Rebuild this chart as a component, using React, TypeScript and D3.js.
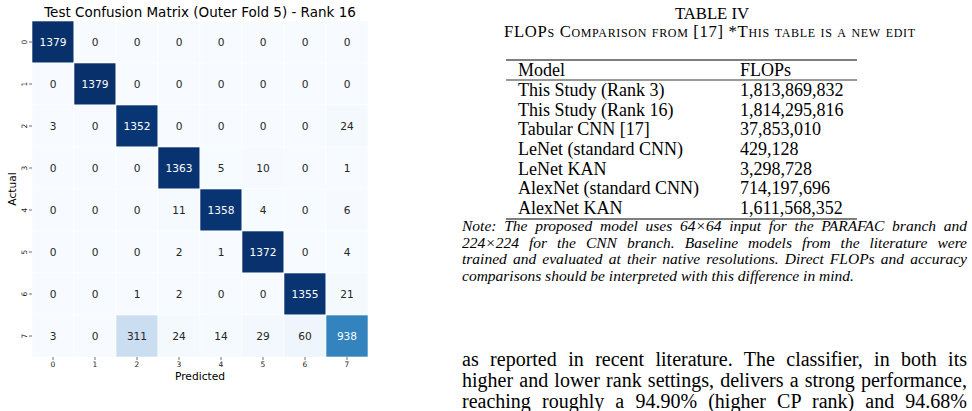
import { useEffect, useRef } from 'react';
import * as d3 from 'd3';

const classLabels = ['0', '1', '2', '3', '4', '5', '6', '7'];

// rows = actual, columns = predicted
const confusionRows = [
  [1379, 0, 0, 0, 0, 0, 0, 0],
  [0, 1379, 0, 0, 0, 0, 0, 0],
  [3, 0, 1352, 0, 0, 0, 0, 24],
  [0, 0, 0, 1363, 5, 10, 0, 1],
  [0, 0, 0, 11, 1358, 4, 0, 6],
  [0, 0, 0, 2, 1, 1372, 0, 4],
  [0, 0, 1, 2, 0, 0, 1355, 21],
  [3, 0, 311, 24, 14, 29, 60, 938],
];

const tableModels = [
  'This Study (Rank 3)',
  'This Study (Rank 16)',
  'Tabular CNN [17]',
  'LeNet (standard CNN)',
  'LeNet KAN',
  'AlexNet (standard CNN)',
  'AlexNet KAN',
];
const tableFlops = [
  '1,813,869,832',
  '1,814,295,816',
  '37,853,010',
  '429,128',
  '3,298,728',
  '714,197,696',
  '1,611,568,352',
];

const noteLines = [
  'Note: The proposed model uses 64\u00d764 input for the PARAFAC branch and',
  '224\u00d7224 for the CNN branch. Baseline models from the literature were',
  'trained and evaluated at their native resolutions. Direct FLOPs and accuracy',
  'comparisons should be interpreted with this difference in mind.',
];

const bodyLines = [
  'as reported in recent literature. The classifier, in both its',
  'higher and lower rank settings, delivers a strong performance,',
  'reaching roughly a 94.90% (higher CP rank) and 94.68%',
];

// matplotlib "Blues" anchor colours
const blues9 = ['#f7fbff', '#deebf7', '#c6dbef', '#9ecae1', '#6baed6', '#4292c6', '#2171b5', '#08519c', '#08306b'];

export default function App() {
  const svgRef = useRef<SVGSVGElement | null>(null);

  useEffect(() => {
    if (!svgRef.current) return;
    const svg = d3.select(svgRef.current);
    svg.selectAll('*').remove();

    const sans = 'DejaVu Sans';
    const serif = 'Liberation Serif';

    // ---- heatmap ----
    const hm = { left: 32, right: 368, top: 21, bottom: 357 };
    const x = d3.scaleBand().domain(classLabels).range([hm.left, hm.right]);
    const y = d3.scaleBand().domain(classLabels).range([hm.top, hm.bottom]);
    const vmax = d3.max(confusionRows.flat()) as number;
    const color = d3.scaleLinear<string>()
      .domain(blues9.map((_, i) => (i / 8) * vmax))
      .range(blues9)
      .interpolate(d3.interpolateRgb);

    const cells = confusionRows.flatMap((row, r) =>
      row.map((v, c) => ({ r: classLabels[r], c: classLabels[c], v })));

    const lum = (hex: string) => {
      const rgb = d3.rgb(hex);
      const f = (u: number) => {
        const s = u / 255;
        return s <= 0.03928 ? s / 12.92 : Math.pow((s + 0.055) / 1.055, 2.4);
      };
      return 0.2126 * f(rgb.r) + 0.7152 * f(rgb.g) + 0.0722 * f(rgb.b);
    };

    const g = svg.append('g');
    g.selectAll('rect')
      .data(cells)
      .join('rect')
      .attr('x', d => x(d.c)!)
      .attr('y', d => y(d.r)!)
      .attr('width', x.bandwidth())
      .attr('height', y.bandwidth())
      .attr('fill', d => color(d.v))
      .attr('stroke', 'white')
      .attr('stroke-width', 0.6);

    g.selectAll('text')
      .data(cells)
      .join('text')
      .attr('x', d => x(d.c)! + x.bandwidth() / 2)
      .attr('y', d => y(d.r)! + y.bandwidth() / 2)
      .attr('dy', '0.36em')
      .attr('text-anchor', 'middle')
      .attr('font-family', sans)
      .attr('font-size', 10.6)
      .attr('fill', d => (lum(color(d.v)) > 0.408 ? '#262626' : '#ffffff'))
      .text(d => d.v);

    // x axis
    const xAxis = svg.append('g')
      .attr('transform', `translate(0,${hm.bottom})`)
      .call(d3.axisBottom(x).tickSize(3).tickPadding(2))
      .call(s => s.select('.domain').remove());
    xAxis.selectAll('line').attr('stroke', '#333').attr('stroke-width', 0.7);
    xAxis.selectAll('text').attr('font-family', sans).attr('font-size', 7.5).attr('fill', '#262626');

    // y axis
    const yAxis = svg.append('g')
      .attr('transform', `translate(${hm.left},0)`)
      .call(d3.axisLeft(y).tickSize(3).tickPadding(2))
      .call(s => s.select('.domain').remove());
    yAxis.selectAll('line').attr('stroke', '#333').attr('stroke-width', 0.7);
    yAxis.selectAll('text')
      .attr('font-family', sans)
      .attr('font-size', 7.5)
      .attr('fill', '#262626')
      .attr('x', null)
      .attr('dy', null)
      .attr('text-anchor', 'middle')
      .attr('transform', 'translate(-8,0) rotate(-90)')
      .attr('y', 0)
      .attr('dominant-baseline', 'central');

    svg.append('text')
      .attr('x', (hm.left + hm.right) / 2)
      .attr('y', 376)
      .attr('dy', '0.36em')
      .attr('text-anchor', 'middle')
      .attr('font-family', sans)
      .attr('font-size', 10.7)
      .attr('fill', '#000')
      .text('Predicted');

    svg.append('text')
      .attr('transform', `translate(12,${(hm.top + hm.bottom) / 2}) rotate(-90)`)
      .attr('dy', '0.36em')
      .attr('text-anchor', 'middle')
      .attr('font-family', sans)
      .attr('font-size', 10.7)
      .attr('fill', '#000')
      .text('Actual');

    svg.append('text')
      .attr('x', (hm.left + hm.right) / 2)
      .attr('y', 17.3)
      .attr('text-anchor', 'middle')
      .attr('font-family', sans)
      .attr('font-size', 13.5)
      .attr('fill', '#000')
      .text('Test Confusion Matrix (Outer Fold 5) - Rank 16');

    // ---- table ----
    const tcx = 712;
    svg.append('text')
      .attr('x', tcx).attr('y', 18.5)
      .attr('text-anchor', 'middle')
      .attr('font-family', serif).attr('font-size', 16.7)
      .text('TABLE IV');
    svg.append('text')
      .attr('x', 709.5).attr('y', 37)
      .attr('text-anchor', 'middle')
      .attr('font-family', serif).attr('font-size', 16.7)
      .attr('font-variant', 'small-caps')
      .attr('textLength', 411)
      .attr('lengthAdjust', 'spacing')
      .text('FLOPs Comparison from [17] *This table is a new edit');

    const ruleX = [506, 857];
    const rowY = d3.scaleLinear().domain([0, 6]).range([96, 214]);
    const rules = [60, 80, 219];
    svg.append('g')
      .selectAll('line')
      .data(rules)
      .join('line')
      .attr('x1', ruleX[0]).attr('x2', ruleX[1])
      .attr('y1', d => d).attr('y2', d => d)
      .attr('stroke', '#000')
      .attr('stroke-width', (d, i) => (i === 1 ? 0.8 : 1.1));

    const col1 = 518;
    const col2 = 740;
    const tfs = 18;
    svg.append('text').attr('x', col1).attr('y', 75.5)
      .attr('font-family', serif).attr('font-size', tfs).text('Model');
    svg.append('text').attr('x', col2).attr('y', 75.5)
      .attr('font-family', serif).attr('font-size', tfs).text('FLOPs');

    svg.append('g')
      .selectAll('text')
      .data(tableModels)
      .join('text')
      .attr('x', col1)
      .attr('y', (_, i) => rowY(i))
      .attr('font-family', serif).attr('font-size', tfs)
      .text(d => d);
    svg.append('g')
      .selectAll('text')
      .data(tableFlops)
      .join('text')
      .attr('x', col2)
      .attr('y', (_, i) => rowY(i))
      .attr('font-family', serif).attr('font-size', tfs)
      .text(d => d);

    // ---- note & body text (justified) ----
    const textLeft = 462;
    const textRight = 967;
    const justify = (sel: d3.Selection<SVGTextElement, string, SVGGElement, unknown>, last: number) => {
      sel.each(function (d, i) {
        if (i === last) return;
        const el = this as SVGTextElement;
        const natural = el.getComputedTextLength();
        const spaces = (d.match(/ /g) || []).length;
        if (spaces > 0) el.setAttribute('word-spacing', String((textRight - textLeft - natural) / spaces));
      });
    };

    const note = svg.append('g')
      .selectAll<SVGTextElement, string>('text')
      .data(noteLines)
      .join('text')
      .attr('x', textLeft)
      .attr('y', (_, i) => 231 + i * 16.7)
      .attr('font-family', serif)
      .attr('font-style', 'italic')
      .attr('font-size', 15.5)
      .text(d => d);
    justify(note as any, noteLines.length - 1);

    const body = svg.append('g')
      .selectAll<SVGTextElement, string>('text')
      .data(bodyLines)
      .join('text')
      .attr('x', textLeft)
      .attr('y', (_, i) => 365.5 + i * 21.2)
      .attr('font-family', serif)
      .attr('font-size', 20)
      .text(d => d);
    justify(body as any, -1);
  }, []);

  return (
    <svg
      ref={svgRef}
      width={972}
      height={411}
      style={{ position: 'absolute', left: 0, top: 0, background: '#fff' }}
    />
  );
}
